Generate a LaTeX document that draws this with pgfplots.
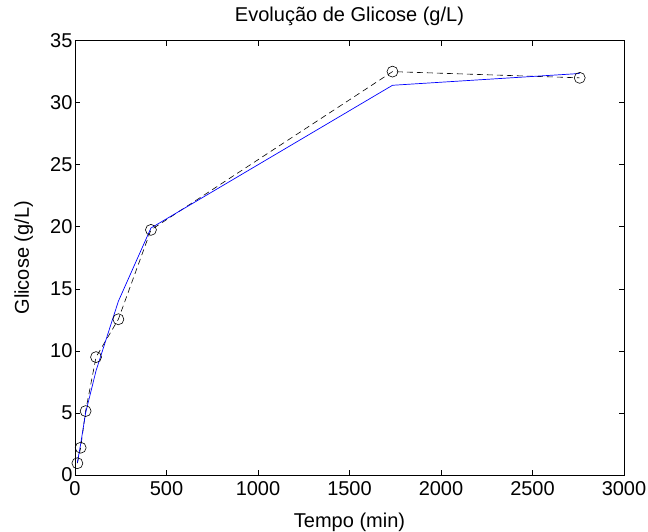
\documentclass[border=0pt]{standalone}
\usepackage{fontspec}
\setmainfont{Liberation Sans}
\usepackage{pgfplots}
\pgfplotsset{compat=1.18}

\begin{document}
\begin{tikzpicture}
% fixed page frame
\path[use as bounding box] (-75bp,-57bp) rectangle (573bp,475bp);
\begin{axis}[
  at={(0,0)}, anchor=south west,
  scale only axis,
  width=549bp, height=434.4bp,
  xmin=0, xmax=3000, ymin=0, ymax=35,
  xtick={0,500,...,3000}, ytick={0,5,...,35},
  tick align=inside,
  major tick length=5bp,
  axis line style={line width=0.8bp},
  every tick/.style={line width=0.6bp, black},
  /pgf/number format/assume math mode=true,
  /pgf/number format/1000 sep={},
  scaled x ticks=false,
  tick label style={font=\fontsize{20bp}{22bp}\selectfont},
  xticklabel style={yshift=-3bp},
  yticklabel style={xshift=1bp},
  label style={font=\fontsize{20bp}{22bp}\selectfont},
  title style={font=\fontsize{20bp}{22bp}\selectfont,
    at={(axis description cs:0.5,1.0313)}, anchor=base},
  title={Evolução de Glicose (g/L)},
  xlabel={Tempo (min)},
  ylabel={Glicose (g/L)},
  xlabel style={at={(axis description cs:0.5,-0.1197)}, anchor=base},
  ylabel style={at={(axis description cs:-0.0838,0.5)}, anchor=base, rotate=0},
  clip=false,
]
% measured glucose
\addplot[black, line width=0.6bp, dash pattern=on 6bp off 4bp,
  mark=o, mark size=5.5bp, mark options={solid, line width=0.6bp}]
  coordinates {
  (13,0.95) (31,2.2) (58,5.15) (115,9.5) (237,12.55) (415,19.75) (1735,32.5) (2758,32.0)
};
% model
\addplot[blue, line width=0.7bp, mark=none]
  coordinates {
  (13,1.0) (31,2.5) (58,5.0) (115,8.4) (237,14.0) (415,19.9) (1735,31.4) (2758,32.35)
};
\end{axis}
\end{tikzpicture}
\end{document}
